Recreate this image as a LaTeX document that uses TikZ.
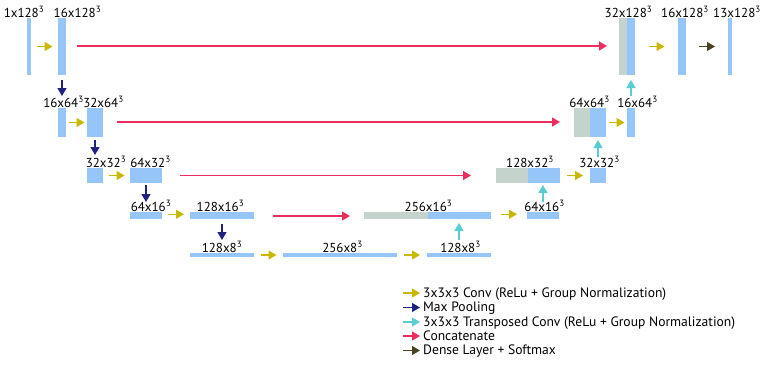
\documentclass[tikz,border=0pt]{standalone}
\usepackage{fontspec}
\setmainfont{PT Sans}
\usetikzlibrary{fit,calc,arrows.meta}
\definecolor{barblue}{RGB}{150,197,250}
\definecolor{bargray}{RGB}{197,211,205}
\definecolor{convc}{RGB}{200,185,0}
\definecolor{poolc}{RGB}{30,35,130}
\definecolor{upc}{RGB}{90,205,210}
\definecolor{catc}{RGB}{238,45,95}
\definecolor{densec}{RGB}{75,65,35}
\tikzset{
  bar/.style={fill=barblue, draw=none, inner sep=0pt, outer sep=0pt},
  gbar/.style={fill=bargray, draw=none, inner sep=0pt, outer sep=0pt},
  arr/.style={line width=1.3pt, -{Triangle[length=8pt,width=9pt]}},
  conv/.style={arr, draw=convc},
  pool/.style={arr, draw=poolc},
  upconv/.style={arr, draw=upc},
  cat/.style={arr, draw=catc},
  dense/.style={arr, draw=densec},
  lbl/.style={anchor=base, inner sep=0pt, font=\fontsize{13}{14}\selectfont},
  leg/.style={anchor=base west, inner sep=0pt, font=\fontsize{13.6}{15}\selectfont}
}
\newcommand{\cu}{\textsuperscript{3}}
\begin{document}
\begin{tikzpicture}[x=1pt,y=-1pt]
\useasboundingbox (0,0) rectangle (768,365);
% row 1
\node[bar, fit={(27,18) (31,75)}] (a1) {};
\node[bar, fit={(58,18) (66,75)}] (a2) {};
\node[gbar, fit={(619,18) (627,75)}] (d1g) {};
\node[bar, fit={(627,18) (635,75)}] (d1b) {};
\node[bar, fit={(678,18) (686,75)}] (d1c) {};
\node[bar, fit={(728,18) (732,75)}] (o1) {};
% row 2
\node[bar, fit={(58,108) (66,137)}] (a3) {};
\node[bar, fit={(87,108) (103,137)}] (a4) {};
\node[gbar, fit={(574,108) (590,137)}] (d2g) {};
\node[bar, fit={(590,108) (606,137)}] (d2b) {};
\node[bar, fit={(627,108) (635,137)}] (d2c) {};
% row 3
\node[bar, fit={(87,168) (103,183)}] (a5) {};
\node[bar, fit={(130,168) (162,183)}] (a6) {};
\node[gbar, fit={(496,168) (528,183)}] (d3g) {};
\node[bar, fit={(528,168) (560,183)}] (d3b) {};
\node[bar, fit={(590,168) (606,183)}] (d3c) {};
% row 4
\node[bar, fit={(130,212) (162,218.5)}] (a7) {};
\node[bar, fit={(190,212) (254,218.5)}] (a8) {};
\node[gbar, fit={(364,212) (428,218.5)}] (d4g) {};
\node[bar, fit={(428,212) (491,218.5)}] (d4b) {};
\node[bar, fit={(527,212) (559,218.5)}] (d4c) {};
% row 5
\node[bar, fit={(190,253) (254,257)}] (a9) {};
\node[bar, fit={(283,253) (397,257)}] (a10) {};
\node[bar, fit={(427,253) (491,257)}] (d5) {};

% labels
\node[lbl] (t1) at (24,17) {1x128\cu};
\node[lbl] (t2) at (77.5,17) {16x128\cu};
\node[lbl] (t3) at (628.5,17) {32x128\cu};
\node[lbl] (t4) at (685,17) {16x128\cu};
\node[lbl] (t5) at (737,17) {13x128\cu};
\node[lbl] (t6) at (63.5,107) {16x64\cu};
\node[lbl] (t7) at (103.5,107) {32x64\cu};
\node[lbl] (t8) at (589.5,107) {64x64\cu};
\node[lbl] (t9) at (637.5,107) {16x64\cu};
\node[lbl] (t10) at (106,167) {32x32\cu};
\node[lbl] (t11) at (150.5,167) {64x32\cu};
\node[lbl] (t12) at (530,167) {128x32\cu};
\node[lbl] (t13) at (599.5,167) {32x32\cu};
\node[lbl] (t14) at (151,211) {64x16\cu};
\node[lbl] (t15) at (220.5,211) {128x16\cu};
\node[lbl] (t16) at (428.5,211) {256x16\cu};
\node[lbl] (t17) at (544.5,211) {64x16\cu};
\node[lbl] (t18) at (222,252) {128x8\cu};
\node[lbl] (t19) at (342.5,252) {256x8\cu};
\node[lbl] (t20) at (460.5,252) {128x8\cu};

% conv arrows
\draw[conv] ($(a1.east)!0.5!(a2.west)+(-8,0)$) -- +(16,0);
\draw[conv] ($(d1b.east)!0.5!(d1c.west)+(-8,0)$) -- +(16,0);
\draw[conv] ($(a3.east)!0.5!(a4.west)+(-8,0)$) -- +(16,0);
\draw[conv] ($(d2b.east)!0.5!(d2c.west)+(-8,0)$) -- +(16,0);
\draw[conv] ($(a5.east)!0.5!(a6.west)+(-8,0)$) -- +(16,0);
\draw[conv] ($(d3b.east)!0.5!(d3c.west)+(-8,0)$) -- +(16,0);
\draw[conv] ($(a7.east)!0.5!(a8.west)+(-8,-1)$) -- +(16,0);
\draw[conv] ($(d4b.east)!0.5!(d4c.west)+(-8,-1)$) -- +(16,0);
\draw[conv] ($(a9.east)!0.5!(a10.west)+(-8,0)$) -- +(16,0);
\draw[conv] ($(a10.east)!0.5!(d5.west)+(-8,0)$) -- +(16,0);
% dense
\draw[dense] ($(d1c.east)!0.5!(o1.west)+(-8,0)$) -- +(16,0);
% pooling
\draw[pool] ([yshift=-5pt]a2.south) -- ([yshift=12pt]a3.north);
\draw[pool] ([yshift=-3pt]a4.south) -- ([yshift=13pt]a5.north);
\draw[pool] ([yshift=-2pt]a6.south) -- ([yshift=10pt]a7.north);
\draw[pool] ([yshift=-5.5pt]a8.south) -- ([yshift=13pt]a9.north);
% up conv
\draw[upconv] ([yshift=13pt]d5.north) -- ([yshift=30pt]d5.north);
\draw[upconv] ([yshift=10pt]d4c.north) -- ([yshift=27pt]d4c.north);
\draw[upconv] ([yshift=11pt]d3c.north) -- ([yshift=28pt]d3c.north);
\draw[upconv] ([yshift=12pt]d2c.north) -- ([yshift=28pt]d2c.north);
% concatenate
\draw[cat] ([xshift=11pt]a2.east |- 0,46) -- ([xshift=-12pt]d1g.west |- 0,46);
\draw[cat] ([xshift=14pt]a4.east |- 0,122) -- ([xshift=-14pt]d2g.west |- 0,122);
\draw[cat] ([xshift=18pt]a6.east) -- ([xshift=-25pt]d3g.west);
\draw[cat] ([xshift=19pt]a8.east |- 0,216) -- ([xshift=-14pt]d4g.west |- 0,216);

% legend
\node[leg] (l1) at (423,297) {3x3x3 Conv (ReLu + Group Normalization)};
\node[leg] (l2) at (423,311.5) {Max Pooling};
\node[leg] (l3) at (423,326) {3x3x3 Transposed Conv (ReLu + Group Normalization)};
\node[leg] (l4) at (423,340) {Concatenate};
\node[leg] (l5) at (423,354.5) {Dense Layer + Softmax};
\draw[conv] ([xshift=-20pt,yshift=4pt]l1.base west) -- ([xshift=-3pt,yshift=4pt]l1.base west);
\draw[pool] ([xshift=-20pt,yshift=4pt]l2.base west) -- ([xshift=-3pt,yshift=4pt]l2.base west);
\draw[upconv] ([xshift=-20pt,yshift=4pt]l3.base west) -- ([xshift=-3pt,yshift=4pt]l3.base west);
\draw[cat] ([xshift=-20pt,yshift=4pt]l4.base west) -- ([xshift=-3pt,yshift=4pt]l4.base west);
\draw[dense] ([xshift=-20pt,yshift=4pt]l5.base west) -- ([xshift=-3pt,yshift=4pt]l5.base west);
\end{tikzpicture}
\end{document}
